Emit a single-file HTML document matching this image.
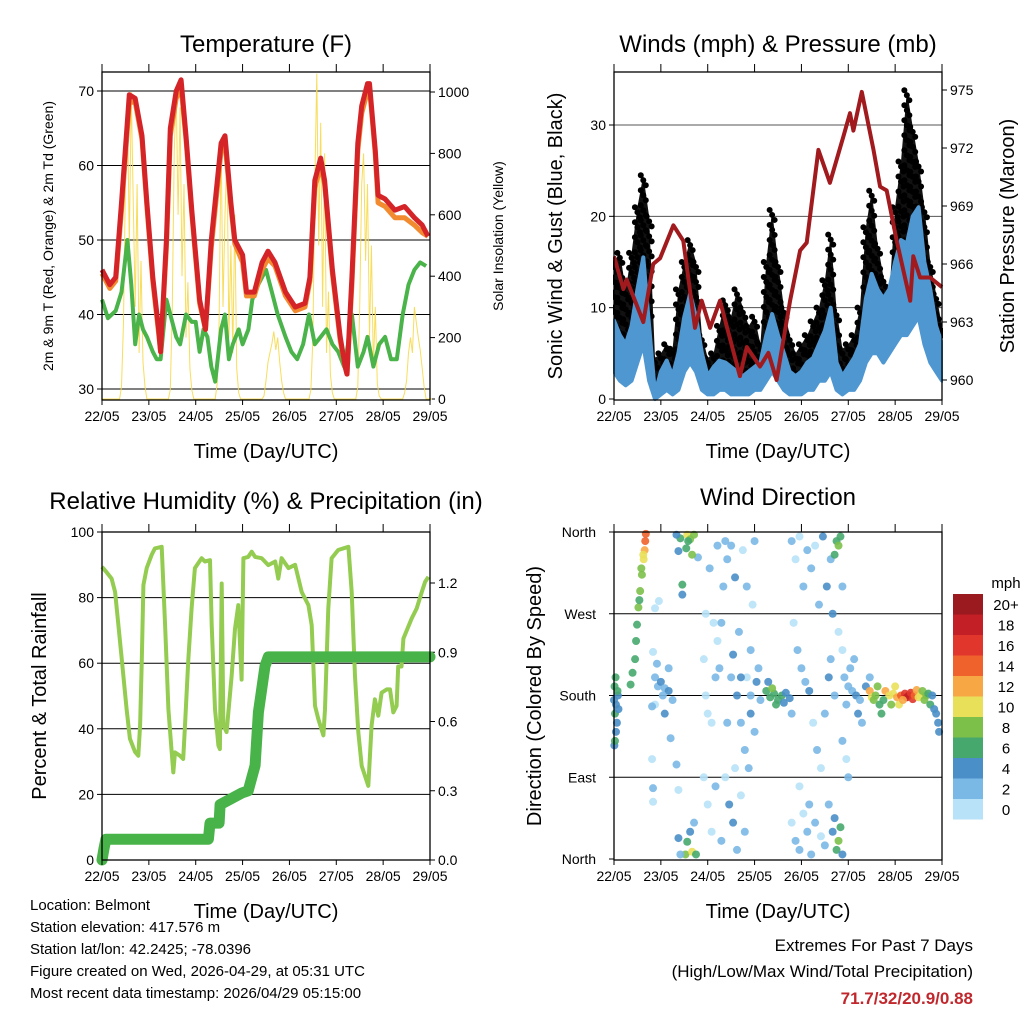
<!DOCTYPE html>
<html><head><meta charset="utf-8"><style>
body{margin:0;background:#fff;}
svg{display:block;font-family:"Liberation Sans",sans-serif;}
</style></head><body>
<svg id="c" width="1024" height="1024" viewBox="0 0 1024 1024"></svg>
<script>
// ===== Temperature panel data =====
const tempHours=[0,4,7,10,14,17,20.5,23,26,29,30,33,35,38,40.5,43,46,48,50,53,56,61,63,66,68,72,74,78,82,85,88.6,94,99,104,106.5,109,112,114,118,122,124.5,125.5,128,131,133,136,137,140,141.4,145,150,155,160,164,167];
const tempRed=[46,44,45,55,69.5,69,64,55,45,38,35,50,65,70,71.5,64,54,48,42,38,50,63,64,55,50,48,43,43,47,48.5,47,43,41,41.5,45,58,61,58,46,37,33,32,45,63,68,71,71,62,56,55.5,54,54.5,53,52,50.5];
const tempOrange=[45.5,43.5,44.5,54,68.5,68.5,63.5,54.5,44.5,37.5,35,49,64,69,70.5,63.5,53.5,47.5,41.5,38,49,62,63,54.5,49.5,47,42.5,42.5,46,47.5,46.5,42.5,40.5,41,44.5,57,60,57.5,45.5,36.5,33,32,44,62,67,70,70.5,61.5,55,54.5,53,53,52,51,50.5];
const dewHours=[0,3,7,10,13,15,17,19,21,23,26,28,30,33,35,38,40,43,46,48,50,52,54,56,58,61,63,65,67,70,72,75,77,80,84,87,90,94,97,100,103,106,109,112,115,118,121,124,126,128,131,134,136,139,142,145,148,151,154,157,160,163,166];
const dewVals=[42,39.5,40.5,43,50,44,36,40,38,37,35,34,34,42,40,37,36,40,39,39,35,38,37,33,31,38,40,34,36,38,36,38,42,44,46,43,40,37,35,34,36,40,36,37,38,36,35,33,36,40,33,35,37,33,36,37,34,34,40,44,46,47,46.5];
const solarVals=[0,0,0,0,0,0,0,0,0,0, 40,250,700,980,500,1000,650,300,700,150,450,120,40,0,0, 0,0,0,0,0,0,0,0,0,0, 30,300,800,1000,600,950,400,700,200,380,100,30,0,0, 0,0,0,0,0,0,0,0,0,0, 50,250,850,300,600,800,200,500,150,600,100,20,0,0, 0,0,0,0,0,0,0,0,0,0, 10,60,120,150,180,220,160,200,120,60,20,0,0,0, 0,0,0,0,0,0,0,0,0,0, 30,200,700,1060,500,900,300,800,150,350,80,20,0,0, 0,0,0,0,0,0,0,0,0,0, 40,300,700,800,450,700,200,500,100,300,50,10,0,0, 0,0,0,0,0,0,0,0,0,0, 20,60,150,200,150,300,250,200,160,100,40,0,0,0,0];
const tempTicks=[30,40,50,60,70];
const solarTicks=[0,200,400,600,800,1000];
const dayLabels=["22/05","23/05","24/05","25/05","26/05","27/05","28/05","29/05"];

// ===== Winds panel data (3-hourly) =====
const windHours=[0,3,6,9,12,15,18,21,24,27,30,33,36,39,42,45,48,51,54,57,60,63,66,69,72,75,78,81,84,87,90,93,96,99,102,105,108,111,114,117,120,123,126,129,132,135,138,141,144,147,150,153,156,159,162,165,168];
const gustVals=[15,16,12,16,21,24.5,20,4.5,5,6,5.5,12,15,17.4,15,7,4.5,5,8,10.8,9,12,10,8,9,6,15,20.7,15,10,7,5,6,7,8.5,10,13,18,9.7,5.5,6,7,10,18.8,22.8,17,13.4,11.5,21,26,33.8,29.8,26,21,15,11.5,8];
const sustVals=[8.6,7,6,8,12,15.5,8,0.6,3,4.2,2.5,5,9,11.5,9,5,2.5,3.5,4.2,4,3.5,3,2.5,3,3.5,4,7,9.3,7,5,3,2.5,3,4,4.5,6,7.5,10,4,2.5,3.5,4.5,6,11,13.7,12,11,12,15,17.4,17,20,21,15,12,8,6];
const sustLow=[3,2,1.5,2,4,6,2,0,0.5,1,0.5,1,3,4,3,1,0.5,0.5,1,1,0.5,0.5,0.5,0.5,1,1,2,3,2,1,0.5,0.5,0.5,1,1,2,2,3,1,0.5,1,1,2,4,5,5,4,5,6,7,7,8,9,6,4,3,2];
const presHours=[0,4.8,6.5,15,20.1,23.6,30.4,35.5,41.5,44.9,49.2,54.3,64.5,68,74.8,79.1,83.3,90.2,95.3,98.7,104.7,110.6,117.5,120.9,122.6,126.9,132.9,136.3,139.7,144.8,151.7,153.3,156.8,161.9,168];
const presVals=[966.4,964.7,965.2,963,966,966.3,968,967.2,962.7,964.1,962.7,964.1,960.2,961.7,960.7,961.4,960,964.1,966.7,967.1,971.9,970.2,972.6,973.8,972.9,974.9,971.9,970,969.8,967.2,964.1,966.4,965.3,965.3,964.8];
const windTicks=[0,10,20,30];
const presTicks=[960,963,966,969,972,975];

// ===== RH panel data =====
const rhHours=[0,2,4.9,6.7,8.4,10.1,12.6,14.3,16.9,18.6,19.5,20.4,21.2,22.9,25.4,27.1,30.6,32.3,34,35.7,36.5,37.4,39.9,41.6,42.5,44.2,45.9,47.6,51,52.7,55.3,56.2,57.9,59.6,60.4,61.3,62.2,63.8,66.4,68.1,69.8,71.5,72.4,74.9,76.7,78.4,81.8,85.2,88.7,90.3,92,95.5,98.9,102.3,105.7,107.4,109.1,110.8,113.4,114.2,115.9,117.6,121,126.2,127.9,129.6,131.3,133,136.4,138.1,139.8,141.5,143.2,145.8,147.5,149.2,150.9,151.7,153.4,154.4,158.6,161.2,163.8,165.5,167.2];
const rhVals=[89.4,88,85.8,81.7,71.6,61.4,46,37,33,31.8,41,61,83.8,89,93,95,95.5,71.6,46,32.8,26.7,32.8,31.8,30.8,41,61,76.7,89,92,91,91.4,71.6,46,34.9,33.8,84.3,41,39,56,70.5,77.7,55,92,92.4,94,92.4,92,89.9,91,85.8,92,89,90,81.7,77.7,71.6,47,43,38,46,76.7,92,94.5,95.5,81.7,56,39,28.7,22.6,41,49,44,51,52,52,45,47,59,59,67.5,73.6,76.7,81.7,84.8,86.3];
const rainHours=[0,1,2,54.5,55.3,60,60.5,71.5,74.9,78.4,80.1,83.5,85.2,168];
const rainVals=[0,0.05,0.09,0.09,0.16,0.16,0.24,0.29,0.3,0.41,0.64,0.84,0.88,0.88];
const rhTicks=[0,20,40,60,80,100];
const rainTicks=["0.0","0.3","0.6","0.9","1.2"];

// ===== Wind direction data =====
const dirHours=[0,0.5,1,1.5,2,0.3,1,0.2,0.5,2.3,1.8,0.8, 8.5,9.5,10.8,11.3,11.8,12.5,13.4,14.3,15.2,15.7,16,16.3,15,14,13, 21,22.5,24,26,28,20,22,28,21,26,29,19.5,32,20,20,33,21,23,19.5,25,30, 34,37.5,39,41,37,33,35,35,43,32,40,38,36.6,40,37.5,33,34,42,39,41, 46,47,48,50,52,53,55,56,58,60,62,63,65,67,68,70,71,72,46,48,50,52,55,57,59,61,63,65,67,69,47,51,54,58,60,62,64,66,68,70,49,53,57,61,65,73,74,75,72,70, 78,80,82,84,86,88,90,81,83,87,91,79, 91,93,95,97,99,101,103,105,107,109,111,112,114,115,116,113,117,92,94,96,98,100,102,104,106,108,110,111,113,115,117,119,120,95,100,91,93,95,97,99,101,103,106,108,110,112,114,115,116,117,113, 118,120,122,124,126,119,121,123,125,127,129,131,117, 131,132,134,135,136,137,133,139,141,143,145,147,149,150,151,152,153,154,155,156,157,158,159,160,161,162,163,164,165,166,166.5,144,146,148,138,142];
const dirDeg=[175,160,170,150,180,190,140,125,130,165,185,200, 192,205,220,240,258,277,295,313,330,340,350,358,335,320,285, 200,190,195,188,185,228,215,210,170,160,133,110,104,78,63,76,276,284,168,180,175, 353,357,352,357,342,339,302,291,332,357,335,350,5,8,19,23,5,5,30,40, 220,180,160,150,200,240,260,300,330,345,310,180,150,120,200,230,280,350,90,60,30,80,20,90,60,40,10,70,30,100,270,260,210,150,200,100,250,340,300,180,320,345,350,225,200,195,210,175,140,160, 185,178,182,175,180,183,177,188,170,172,160,195, 350,330,355,300,340,320,345,280,355,300,330,270,350,345,355,335,300,260,230,210,195,185,150,120,100,160,200,220,180,250,130,110,90,80,60,40,20,10,50,30,5,40,25,15,60,30,10,20,35,5,45, 200,190,185,180,175,170,210,220,160,150,190,200,230, 185,178,180,190,170,160,175,185,180,182,178,180,182,178,180,183,176,180,186,178,180,185,175,180,182,170,180,165,160,150,140,190,170,175,175,170];
const dirSpeed=[5,6,4,5,4,6,4,5,6,4,6,6, 6,7,6,6,7,8,8,9,11,12,14,15,10,8,6, 3,2,4,3,4,1,2,3,1,4,2,1,3,2,1,1,1,1,2,2,3, 6,10,9,8,7,4,6,4,3,4,8,6,8,10,6,4,3,6,5,3, 1,0,1,0,2,1,3,2,3,2,4,4,3,2,1,2,1,3,0,1,1,2,3,1,4,4,2,1,2,3,0,1,2,3,2,1,2,1,3,3,2,3,2,4,4,4,3,2,2,4, 6,7,6,7,6,5,4,8,6,4,3,5, 2,1,1,2,3,2,1,3,4,4,3,4,7,8,6,6,2,1,2,3,2,4,1,2,1,3,4,3,2,1,2,1,2,1,2,1,2,3,1,2,2,3,1,2,3,4,6,8,6,5,4, 2,3,2,4,3,2,2,3,4,2,4,3,1, 12,10,9,8,7,6,8,12,10,11,13,15,17,19,18,16,17,14,12,11,10,9,8,9,7,6,4,4,4,4,4,10,11,12,6,8];
const dirLabels=["North","East","South","West","North"];
const speedLevels=["20+","18","16","14","12","10","8","6","4","2","0"];
const speedColors=["#9b1a1f","#c21f26","#e0362b","#f0622c","#f8a745","#e9e05a","#7cc04a","#47a86e","#4a8fc8","#7ab8e6","#b8e2f8"];

// ===== helpers =====
const NS="http://www.w3.org/2000/svg";
const svg=document.getElementById('c');
function mk(tag,attrs,parent){const e=document.createElementNS(NS,tag);for(const k in attrs)e.setAttribute(k,attrs[k]);(parent||svg).appendChild(e);return e;}
function txt(s,x,y,size,anchor,parent,extra){const t=mk('text',Object.assign({x:x,y:y,'font-size':size,'text-anchor':anchor||'middle',fill:'#000'},extra||{}),parent);t.textContent=s;return t;}
function linear(d0,d1,r0,r1){return v=>r0+(v-d0)*(r1-r0)/(d1-d0);}
function pts(xs,ys,fx,fy){return xs.map((h,i)=>fx(h).toFixed(1)+','+fy(ys[i]).toFixed(1)).join(' ');}

function frame(g,L,T,R,B){
  const f=mk('rect',{x:L,y:T,width:R-L,height:B-T,fill:'none',stroke:'#000','stroke-width':1.3},g);
  
  
}
function xAxis(g,L,R,T,B){
  const fx=linear(0,168,L,R);
  const ax=mk('g',{},g);
  
  
  dayLabels.forEach((d,i)=>{
    const x=fx(i*24);
    mk('line',{x1:x,x2:x,y1:B,y2:B+5,stroke:'#000'},ax);
    mk('line',{x1:x,x2:x,y1:T,y2:T-8,stroke:'#000'},ax);
    const t=txt(d,x,B+21,14,'middle',ax);
    
    
  });
  const tt=txt('Time (Day/UTC)',(L+R)/2,B+58,20,'middle',ax);
  
  
  return fx;
}
function title(s,x,y,name){const t=txt(s,x,y,24,'middle');}
function vtitle(s,x,y,size,name){const t=txt(s,0,0,size,'middle',svg,{transform:`translate(${x},${y}) rotate(-90)`});}

// ===== Panel 1: Temperature =====
(function(){
  const L=102,R=430,T=72,B=400;
  const g=mk('g',{});
  
  
  const fx=linear(0,168,L,R), fy=linear(30,70,389,91), fs=linear(0,1000,399,92);
  tempTicks.forEach(v=>{const y=fy(v);mk('line',{x1:L,x2:R,y1:y,y2:y,stroke:'#000','stroke-width':1},g);mk('line',{x1:L-5,x2:L,y1:y,y2:y,stroke:'#000'},g);
    const t=txt(String(v),L-8,y+5,14,'end',g);});
  solarTicks.forEach(v=>{const y=fs(v);mk('line',{x1:R,x2:R+5,y1:y,y2:y,stroke:'#000'},g);
    const t=txt(String(v),R+8,y+5,14,'start',g);});
  const sx=solarVals.map((v,i)=>i);
  const sl=mk('polyline',{points:pts(sx,solarVals,fx,fs),fill:'none',stroke:'#f7d94a','stroke-width':1,opacity:0.9},g);
  
  const dl=mk('polyline',{points:pts(dewHours,dewVals,fx,fy),fill:'none',stroke:'#4ab34a','stroke-width':4,'stroke-linejoin':'round'},g);
  
  const ol=mk('polyline',{points:pts(tempHours,tempOrange,fx,fy),fill:'none',stroke:'#f28a30','stroke-width':5,'stroke-linejoin':'round'},g);
  
  const rl=mk('polyline',{points:pts(tempHours,tempRed,fx,fy),fill:'none',stroke:'#d42428','stroke-width':5,'stroke-linejoin':'round'},g);
  
  frame(g,L,T,R,B); xAxis(g,L,R,T,B);
  title('Temperature (F)',266,52,'temperature-title');
  vtitle('2m & 9m T (Red, Orange) & 2m Td (Green)',53,236,14,'temperature-y-title');
  vtitle('Solar Insolation (Yellow)',503,236,14,'solar-y-title');
})();

// ===== Panel 2: Winds =====
(function(){
  const L=614,R=942,T=72,B=400;
  const g=mk('g',{});
  
  
  const fx=linear(0,168,L,R), fy=linear(0,30,399,125), fp=linear(960,975,380,90);
  windTicks.forEach(v=>{const y=fy(v);if(v>0)mk('line',{x1:L,x2:R,y1:y,y2:y,stroke:'#555','stroke-width':1},g);mk('line',{x1:L-5,x2:L,y1:y,y2:y,stroke:'#000'},g);
    const t=txt(String(v),L-8,y+5,14,'end',g);});
  presTicks.forEach(v=>{const y=fp(v);mk('line',{x1:R,x2:R+5,y1:y,y2:y,stroke:'#000'},g);
    const t=txt(String(v),R+8,y+5,14,'start',g);});
  const band=pts(windHours,gustVals,fx,fy)+' '+pts(windHours.slice().reverse(),sustLow.slice().reverse(),fx,fy);
  const gb=mk('polygon',{points:band,fill:'#111'},g);
  
  windHours.forEach((h,i)=>{
    const yTop=fy(gustVals[i]), yBot=fy(sustVals[i]);
    for(let y=yTop,k=0;y<=yBot;y+=5,k++){
      const c=mk('circle',{cx:fx(h)+((k%3)-1)*2.5,cy:y,r:3,fill:'#000'},g);
      
    }});
  const sb=pts(windHours,sustVals,fx,fy)+' '+pts(windHours.slice().reverse(),sustLow.slice().reverse(),fx,fy);
  const sp=mk('polygon',{points:sb,fill:'#4f97d1',stroke:'#4f97d1','stroke-width':4,'stroke-linejoin':'round'},g);
  
  const pl=mk('polyline',{points:pts(presHours,presVals,fx,fp),fill:'none',stroke:'#a11a1e','stroke-width':4,'stroke-linejoin':'round'},g);
  
  mk('rect',{x:R+1,y:T,width:6,height:B-T,fill:'#fff'},g);
  mk('rect',{x:L-8,y:T,width:7,height:B-T,fill:'#fff'},g);
  frame(g,L,T,R,B); xAxis(g,L,R,T,B);
  presTicks.forEach(v=>{const y=fp(v);mk('line',{x1:R,x2:R+5,y1:y,y2:y,stroke:'#000'},g);});
  windTicks.forEach(v=>{const y=fy(v);mk('line',{x1:L-5,x2:L,y1:y,y2:y,stroke:'#000'},g);});
  title('Winds (mph) & Pressure (mb)',778,52,'winds-title');
  vtitle('Sonic Wind & Gust (Blue, Black)',562,236,20,'wind-y-title');
  vtitle('Station Pressure (Maroon)',1014,236,20,'pressure-y-title');
})();

// ===== Panel 3: RH =====
(function(){
  const L=102,R=430,T=532,B=860;
  const g=mk('g',{});
  
  
  const fx=linear(0,168,L,R), fy=linear(0,100,860,532), fr=linear(0,1.2,860,583);
  rhTicks.forEach(v=>{const y=fy(v);if(v>0&&v<100)mk('line',{x1:L,x2:R,y1:y,y2:y,stroke:'#000','stroke-width':1},g);mk('line',{x1:L-5,x2:L,y1:y,y2:y,stroke:'#000'},g);
    const t=txt(String(v),L-8,y+5,14,'end',g);});
  rainTicks.forEach(v=>{const y=fr(parseFloat(v));mk('line',{x1:R,x2:R+5,y1:y,y2:y,stroke:'#000'},g);
    const t=txt(v,R+8,y+5,14,'start',g);});
  const rl=mk('polyline',{points:pts(rhHours,rhVals,fx,fy),fill:'none',stroke:'#93cc50','stroke-width':4,'stroke-linejoin':'round'},g);
  
  const pl=mk('polyline',{points:pts(rainHours,rainVals,fx,fr),fill:'none',stroke:'#48b348','stroke-width':11,'stroke-linejoin':'round','stroke-linecap':'round'},g);
  
  frame(g,L,T,R,B); xAxis(g,L,R,T,B);
  title('Relative Humidity (%) & Precipitation (in)',266,509,'humidity-title');
  vtitle('Percent & Total Rainfall',46,696,20,'humidity-y-title');
})();

// ===== Panel 4: Wind direction =====
(function(){
  const L=614,R=942,T=532,B=860;
  const g=mk('g',{});
  
  
  const fx=linear(0,168,L,R), fy=linear(0,360,859,532);
  dirLabels.forEach((s,i)=>{const y=fy(i*90);if(i>0&&i<4)mk('line',{x1:L,x2:R,y1:y,y2:y,stroke:'#000','stroke-width':1},g);mk('line',{x1:L-5,x2:L,y1:y,y2:y,stroke:'#000'},g);
    const t=txt(s,L-18,y+5,14,'end',g);});
  function col(s){let k=Math.min(10,Math.floor(s/2));return speedColors[10-k];}
  dirHours.forEach((h,i)=>{const c=mk('circle',{cx:fx(h),cy:fy(dirDeg[i]),r:4,fill:col(dirSpeed[i]),opacity:0.9},g);
    });
  frame(g,L,T,R,B); xAxis(g,L,R,T,B);
  title('Wind Direction',778,505,'wind-direction-title');
  vtitle('Direction (Colored By Speed)',541,696,20,'direction-y-title');
  const lg=mk('g',{});
  
  
  const mt=txt('mph',1006,588,15,'middle',lg);
  speedLevels.forEach((s,i)=>{const y=594+i*20.5;
    const r=mk('rect',{x:953,y:y,width:30,height:20.5,fill:speedColors[i]},lg);
    
    const t=txt(s,1006,y+16,15,'middle',lg);});
})();

// ===== Footer text =====
(function(){
  const lines=["Location: Belmont","Station elevation: 417.576 m","Station lat/lon: 42.2425; -78.0396","Figure created on Wed, 2026-04-29, at 05:31 UTC","Most recent data timestamp: 2026/04/29 05:15:00"];
  lines.forEach((s,i)=>{const t=txt(s,30,910+i*22,15,'start');});
  let t=txt('Extremes For Past 7 Days',973,951,17,'end');
  t=txt('(High/Low/Max Wind/Total Precipitation)',973,977,17,'end');
  t=txt('71.7/32/20.9/0.88',973,1004,17,'end',svg,{fill:'#c0282d','font-weight':'bold'});
})();
</script>
</body></html>
